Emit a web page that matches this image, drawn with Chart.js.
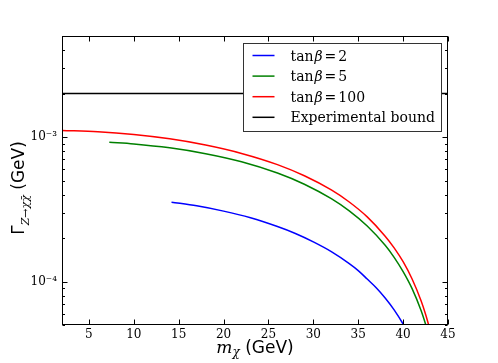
<!DOCTYPE html>
<html>
<head>
<meta charset="utf-8">
<script src="https://cdn.jsdelivr.net/npm/chart.js@4.4.0/dist/chart.umd.min.js"></script>
<style>
html, body { margin: 0; padding: 0; background: #fff; }
canvas { display: block; }
</style>
</head>
<body>
<canvas id="widthChart" width="498" height="363"></canvas>
<script>
// dark matter mass m_chi (GeV) and invisible Z width (GeV)
var massTan2 = [14.2, 17, 20, 23, 26, 28, 30, 32, 34, 35, 36, 37, 38, 39, 40, 40.2];
var widthTan2 = [3.54e-4, 3.34e-4, 3.07e-4, 2.76e-4, 2.40e-4, 2.15e-4, 1.88e-4, 1.61e-4, 1.33e-4, 1.19e-4, 1.04e-4, 9.06e-5, 7.69e-5, 6.36e-5, 5.08e-5, 4.83e-5];

var massTan5 = [7.27, 10, 14, 18, 22, 26, 29, 32, 34, 36, 38, 39, 40, 41, 42, 42.5, 42.6];
var widthTan5 = [9.20e-4, 8.96e-4, 8.42e-4, 7.67e-4, 6.74e-4, 5.63e-4, 4.71e-4, 3.74e-4, 3.08e-4, 2.42e-4, 1.78e-4, 1.47e-4, 1.17e-4, 8.92e-5, 6.30e-5, 5.08e-5, 4.85e-5];

var massTan100 = [2, 6, 10, 14, 18, 22, 26, 29, 32, 34, 36, 38, 39, 40, 41, 42, 42.5, 42.9];
var widthTan100 = [1.11e-3, 1.087e-3, 1.040e-3, 9.71e-4, 8.80e-4, 7.70e-4, 6.44e-4, 5.39e-4, 4.30e-4, 3.55e-4, 2.80e-4, 2.06e-4, 1.71e-4, 1.37e-4, 1.04e-4, 7.36e-5, 5.94e-5, 4.87e-5];

var boundMass = [2, 45];
var boundWidth = [2e-3, 2e-3];

var seriesLabels = ['tanβ=2', 'tanβ=5', 'tanβ=100', 'Experimental bound'];
var seriesColors = ['#0000ff', '#008000', '#ff0000', '#000000'];

var xTickValues = [5, 10, 15, 20, 25, 30, 35, 40, 45];
var yTickValues = [1e-4, 1e-3];
var yTickLabels = ['10⁻⁴', '10⁻³'];

function toPoints(xs, ys) {
    return xs.map(function(x, i) { return { x: x, y: ys[i] }; });
}

var seriesData = [
    toPoints(massTan2, widthTan2),
    toPoints(massTan5, widthTan5),
    toPoints(massTan100, widthTan100),
    toPoints(boundMass, boundWidth)
];

// frame, inward ticks and axis titles (matplotlib look)
var framePlugin = {
    id: 'frame',
    afterDatasetsDraw: function(chart) {
        var ctx = chart.ctx, a = chart.chartArea;
        var xs = chart.scales.x, ys = chart.scales.y;
        var L = Math.round(a.left) + 0.5, R = Math.round(a.right) - 0.5;
        var T = Math.round(a.top) + 0.5, B = Math.round(a.bottom) - 0.5;
        ctx.save();
        ctx.strokeStyle = '#000';
        ctx.lineWidth = 1;
        ctx.beginPath();
        xTickValues.forEach(function(v) {
            var px = Math.round(xs.getPixelForValue(v)) + 0.5;
            ctx.moveTo(px, B); ctx.lineTo(px, B - 5);
            ctx.moveTo(px, T); ctx.lineTo(px, T + 5);
        });
        for (var dec = -5; dec <= -3; dec++) {
            for (var k = 1; k <= 9; k++) {
                var v = k * Math.pow(10, dec);
                if (v < ys.min * 0.999 || v > ys.max * 1.001) continue;
                var len = k === 1 ? 5 : 2.5;
                var py = Math.round(ys.getPixelForValue(v)) + 0.5;
                ctx.moveTo(L, py); ctx.lineTo(L + len, py);
                ctx.moveTo(R, py); ctx.lineTo(R - len, py);
            }
        }
        ctx.stroke();
        ctx.strokeRect(L, T, R - L, B - T);
        ctx.restore();
    },
    afterDraw: function(chart) {
        var ctx = chart.ctx, a = chart.chartArea;
        ctx.save();
        ctx.fillStyle = '#000';
        ctx.textBaseline = 'alphabetic';

        // x title: m_chi (GeV)
        var big = '17px "DejaVu Sans"';
        var mFont = 'italic 17px "DejaVu Serif"';
        var subFont = 'italic 12px "DejaVu Serif"';
        ctx.font = mFont; var wm = ctx.measureText('m').width;
        ctx.font = subFont; var wc = ctx.measureText('χ').width;
        ctx.font = big; var wg = ctx.measureText(' (GeV)').width;
        var x0 = (a.left + a.right) / 2 - (wm + wc + wg) / 2;
        var yb = 353;
        ctx.font = mFont; ctx.fillText('m', x0, yb);
        ctx.font = subFont; ctx.fillText('χ', x0 + wm, yb + 3);
        ctx.font = big; ctx.fillText(' (GeV)', x0 + wm + wc, yb);

        // y title: Gamma_{Z->chi chibar} (GeV)
        ctx.translate(24, 188);
        ctx.rotate(-Math.PI / 2);
        var ySub = 'italic 11px "DejaVu Serif"';
        ctx.font = big; var wG = ctx.measureText('Γ').width;
        ctx.font = ySub; var ws = ctx.measureText('Z→χχ\u0304').width;
        ctx.font = big; var wu = ctx.measureText(' (GeV)').width;
        var s0 = -(wG + ws + wu) / 2;
        ctx.font = big; ctx.fillText('Γ', s0, 0);
        ctx.font = ySub; ctx.fillText('Z→χχ\u0304', s0 + wG, 5);
        ctx.font = big; ctx.fillText(' (GeV)', s0 + wG + ws, 0);
        ctx.restore();
    }
};

// boxed legend in the upper right corner of the plot
var legendPlugin = {
    id: 'boxLegend',
    afterDraw: function(chart) {
        var ctx = chart.ctx, a = chart.chartArea;
        var w = 198, h = 88;
        var x0 = Math.round(a.right - 7 - w) + 0.5, y0 = Math.round(a.top + 7) + 0.5;
        ctx.save();
        ctx.fillStyle = '#fff';
        ctx.fillRect(x0, y0, w, h);
        ctx.strokeStyle = '#333';
        ctx.lineWidth = 1;
        ctx.strokeRect(x0, y0, w, h);
        var norm = '14px "DejaVu Serif"', ital = 'italic 14px "DejaVu Serif"';
        chart.data.datasets.forEach(function(ds, i) {
            var cy = y0 + 12 + i * 20.6;
            ctx.strokeStyle = ds.borderColor;
            ctx.lineWidth = 1.5;
            ctx.beginPath();
            ctx.moveTo(x0 + 9, cy); ctx.lineTo(x0 + 31, cy);
            ctx.stroke();
            ctx.fillStyle = '#000';
            var tx = x0 + 47, ty = cy + 5;
            var parts = ds.label.split('β');
            if (parts.length === 2) {
                ctx.font = norm; ctx.fillText(parts[0], tx, ty);
                tx += ctx.measureText(parts[0]).width + 1;
                ctx.font = ital; ctx.fillText('β', tx, ty);
                tx += ctx.measureText('β').width + 2;
                var rest = parts[1].split('=');
                ctx.font = norm;
                ctx.fillText('=', tx, ty);
                tx += ctx.measureText('=').width + 2;
                ctx.fillText(rest[1], tx, ty);
            } else {
                ctx.font = norm; ctx.fillText(ds.label, tx, ty);
            }
        });
        ctx.restore();
    }
};

Chart.defaults.color = '#000';

var ctx = document.getElementById('widthChart').getContext('2d');
var widthChart = new Chart(ctx, {
    type: 'line',
    data: {
        datasets: seriesData.map(function(pts, i) {
            return {
                label: seriesLabels[i],
                data: pts,
                borderColor: seriesColors[i],
                backgroundColor: seriesColors[i],
                borderWidth: 1.5,
                pointRadius: 0,
                fill: false,
                cubicInterpolationMode: 'monotone'
            };
        })
    },
    options: {
        responsive: false,
        animation: false,
        devicePixelRatio: 1,
        layout: { padding: { top: 36, right: 50, left: 0, bottom: 0 } },
        plugins: {
            legend: { display: false },
            tooltip: { enabled: false }
        },
        scales: {
            x: {
                type: 'linear',
                min: 2,
                max: 45,
                grid: { display: false, drawTicks: false, tickLength: 0 },
                border: { display: false },
                afterBuildTicks: function(axis) {
                    axis.ticks = xTickValues.map(function(v) { return { value: v }; });
                },
                afterFit: function(axis) { axis.height = 38; },
                ticks: {
                    padding: 3,
                    maxRotation: 0,
                    font: { family: 'DejaVu Serif', size: 12 }
                }
            },
            y: {
                type: 'logarithmic',
                min: 5e-5,
                max: 5e-3,
                grid: { display: false, drawTicks: false, tickLength: 0 },
                border: { display: false },
                afterBuildTicks: function(axis) {
                    axis.ticks = yTickValues.map(function(v) { return { value: v }; });
                },
                afterFit: function(axis) { axis.width = 62; },
                ticks: {
                    padding: 5,
                    font: { family: 'DejaVu Serif', size: 12 },
                    callback: function(value) {
                        var i = yTickValues.indexOf(value);
                        return i >= 0 ? yTickLabels[i] : '';
                    }
                }
            }
        }
    },
    plugins: [framePlugin, legendPlugin]
});
</script>
</body>
</html>
